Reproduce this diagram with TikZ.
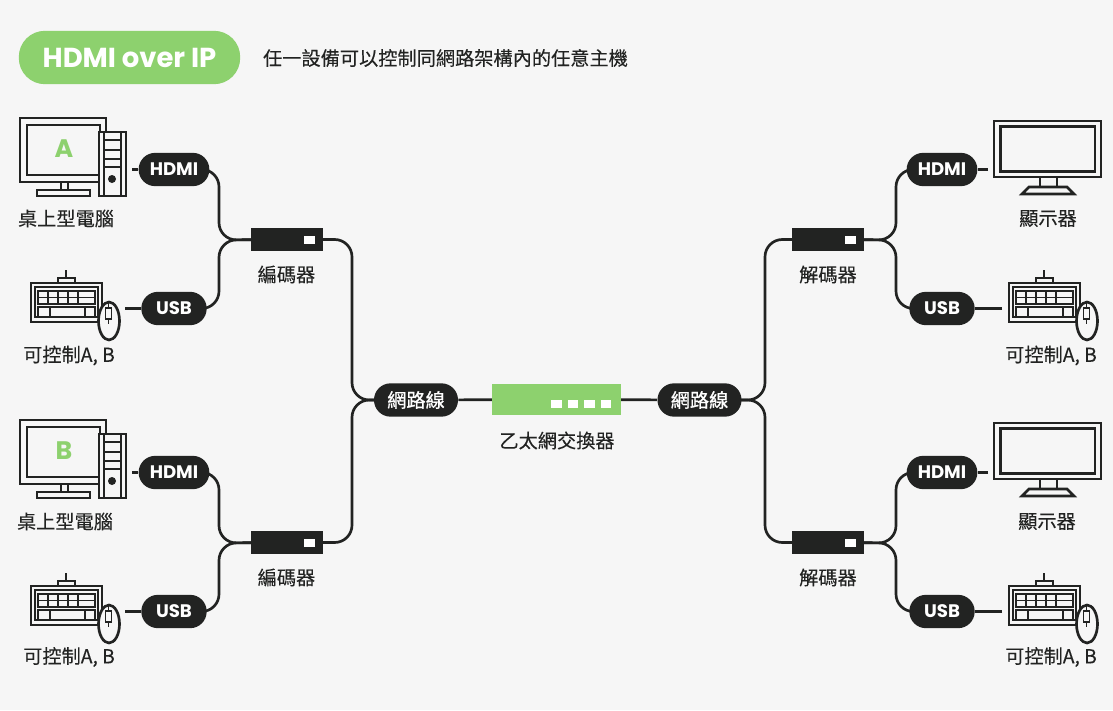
\documentclass[tikz,border=0pt]{standalone}
\usepackage{fontspec}
\setmainfont{Noto Sans CJK TC}
\newfontfamily\latinfont{Poppins}
\newfontfamily\cjkmed[FakeBold=1]{Noto Sans CJK TC}
\newfontfamily\cjklab[FakeBold=0.2]{Noto Sans CJK TC}
\usetikzlibrary{calc}
\definecolor{bgc}{HTML}{F6F6F6}
\definecolor{ink}{HTML}{222322}
\definecolor{grn}{HTML}{8DD16E}
\pgfdeclarelayer{back}
\pgfsetlayers{back,main}
\tikzset{
  x=0.75pt,y=-0.75pt,
  icon/.style={draw=ink,line width=2pt,fill=none},
  thin key/.style={draw=ink,line width=1.35pt,fill=none},
  wire/.style={draw=ink,line width=2pt},
  bendwire/.style={wire,rounded corners=13pt},
  pill/.style={fill=ink,text=white,rounded corners=12.4pt,minimum height=25pt,inner sep=0pt,anchor=center},
  pilllat/.style={pill,font=\latinfont\fontsize{13.6pt}{14pt}\selectfont\bfseries},
  pillcjk/.style={pill,font=\cjkmed\fontsize{14.4pt}{15pt}\selectfont,minimum width=63pt},
  lbl/.style={text=ink,font=\cjklab\fontsize{14.4pt}{16pt}\selectfont,inner sep=0pt,anchor=center},
  boxnode/.style={fill=ink,minimum width=54pt,minimum height=17.5pt,inner sep=0pt},
}
\newcommand{\computerIcon}[3]{%
 \begin{scope}[shift={(#1,#2)}]
  \draw[icon] (20,118) rectangle (106,182);
  \draw[icon] (27,125) rectangle (100,175);
  \draw[icon] (61,182) -- (61,190) (68,182) -- (68,190);
  \draw[icon] (37,190) rectangle (90,196);
  \fill[bgc] (98,132) rectangle (127,197);
  \draw[icon] (99,132) rectangle (126,196);
  \draw[icon] (104,132) -- (104,196) (121,132) -- (121,196);
  \draw[icon] (104,140) -- (121,140) (104,150) -- (121,150) (104,159) -- (121,159) (104,167) -- (121,167);
  \fill[ink] (112,179) circle[radius=4];
  \node[text=grn,font=\latinfont\fontsize{19pt}{20pt}\selectfont\bfseries,inner sep=0pt] (letter#3) at (64,149) {#3};
 \end{scope}}
\newcommand{\keyboardIcon}[2]{%
 \begin{scope}[shift={(#1,#2)}]
  \draw[icon] (66,270) -- (66,278);
  \draw[icon] (58,283) -- (58,278) -- (75,278) -- (75,283);
  \draw[icon] (31,283) rectangle (102,322);
  \draw[thin key] (35,287) rectangle (98,317);
  \draw[thin key] (38,291) rectangle (95,304);
  \draw[thin key] (38,297.5) -- (95,297.5);
  \draw[thin key] (48,291) -- (48,304) (58,291) -- (58,304) (68,291) -- (68,304) (78,291) -- (78,304);
  \draw[thin key] (38,307) rectangle (95,317);
  \draw[thin key] (50,307) -- (50,317) (85,307) -- (85,317);
  \draw[draw=ink,fill=bgc,line width=2pt] (109,321) ellipse[x radius=10.5,y radius=19];
  \draw[thin key] (108.5,302) -- (108.5,308) (108.5,319) -- (108.5,324);
  \draw[thin key] (105.5,308) rectangle (111.5,319);
 \end{scope}}
\newcommand{\monitorIcon}[2]{%
 \begin{scope}[shift={(#1,#2)}]
  \draw[icon] (994,121) rectangle (1101,177);
  \draw[icon] (1000.5,126.5) rectangle (1095,171.5);
  \draw[icon] (1040,178) -- (1040,187) (1057,178) -- (1057,187);
  \draw[icon,line join=miter] (1029,187) -- (1067,187) -- (1074,194) -- (1022,194) -- cycle;
 \end{scope}}
\begin{document}
\begin{tikzpicture}
\useasboundingbox (0,0) rectangle (1113,710);
\begin{pgfonlayer}{back}
\fill[bgc] (0,0) rectangle (1113,710);
\end{pgfonlayer}
% header
\node[fill=grn,text=white,rounded corners=19.5pt,minimum width=166pt,minimum height=40pt,inner sep=0pt,font=\latinfont\fontsize{20.6pt}{22pt}\selectfont\bfseries] (title) at (129.5,57.5) {HDMI over IP};
\node[lbl] (subtitle) at (445.5,58) {任一設備可以控制同網路架構內的任意主機};
% icons
\computerIcon{0}{0}{A}
\computerIcon{0}{302}{B}
\keyboardIcon{0}{0}
\keyboardIcon{0}{303}
\keyboardIcon{978}{0}
\keyboardIcon{978}{303}
\monitorIcon{0}{0}
\monitorIcon{0}{302}
% pills
\node[pilllat,minimum width=53pt] (hdmiA) at (174,169.5) {HDMI};
\node[pilllat,minimum width=49pt] (usbA) at (174,308.5) {USB};
\node[pilllat,minimum width=53pt] (hdmiB) at (174,472.5) {HDMI};
\node[pilllat,minimum width=49pt] (usbB) at (174,611.5) {USB};
\node[pilllat,minimum width=53pt] (hdmiC) at (942,169.5) {HDMI};
\node[pilllat,minimum width=49pt] (usbC) at (942,308.5) {USB};
\node[pilllat,minimum width=53pt] (hdmiD) at (942,472.5) {HDMI};
\node[pilllat,minimum width=49pt] (usbD) at (942,611.5) {USB};
\node[pillcjk] (netL) at (416,400) {網路線};
\node[pillcjk] (netR) at (699.5,400) {網路線};
% boxes
\node[boxnode] (enc1) at (287,239.5) {};
\node[boxnode] (enc2) at (287,542.5) {};
\node[boxnode] (dec1) at (828,239.5) {};
\node[boxnode] (dec2) at (828,542.5) {};
\node[fill=grn,minimum width=96.5pt,minimum height=23.5pt,inner sep=0pt] (switch) at (556.5,399.5) {};
\foreach \b in {enc1,enc2,dec1,dec2} {\fill[white] ($(\b.east)+(-19,-4)$) rectangle +(11,8);}
\foreach \sx in {551,567.5,584,600.5} {\fill[white] (\sx,400) rectangle +(10.5,8);}
% labels
\node[lbl] (l1) at (66,218.5) {桌上型電腦};
\node[lbl] (l2) at (69,355.5) {可控制A, B};
\node[lbl] (l3) at (65,521.5) {桌上型電腦};
\node[lbl] (l4) at (69,657) {可控制A, B};
\node[lbl] (l5) at (286.5,274.5) {編碼器};
\node[lbl] (l6) at (286.5,577.5) {編碼器};
\node[lbl] (l7) at (828,274.5) {解碼器};
\node[lbl] (l8) at (828,577.5) {解碼器};
\node[lbl] (l9) at (1048,218.5) {顯示器};
\node[lbl] (l10) at (1047,521.5) {顯示器};
\node[lbl] (l11) at (1051,355.5) {可控制A, B};
\node[lbl] (l12) at (1051,657) {可控制A, B};
\node[lbl] (l13) at (557,440.5) {乙太網交換器};
% free ends
\coordinate (pcA) at (132,169.5);
\coordinate (pcB) at (132,472.5);
\coordinate (kbA) at (125,308.5);
\coordinate (kbB) at (125,611.5);
\coordinate (mnC) at (988,169.5);
\coordinate (mnD) at (988,472.5);
\coordinate (kbC) at (1002,308.5);
\coordinate (kbD) at (1002,611.5);
\begin{pgfonlayer}{back}
\draw[wire] (pcA) -- (hdmiA) (pcB) -- (hdmiB) (kbA) -- (usbA) (kbB) -- (usbB);
\draw[wire] (mnC) -- (hdmiC) (mnD) -- (hdmiD) (kbC) -- (usbC) (kbD) -- (usbD);
\draw[wire] (netL) -- (switch) (switch) -- (netR);
\coordinate (j1) at (219,240);
\coordinate (j2) at (219,543);
\coordinate (j3) at (896,240);
\coordinate (j4) at (896,543);
\coordinate (j5) at (352,400);
\coordinate (j6) at (765,400);
\draw[bendwire] (hdmiA.center) -| (j1) -- (enc1.center);
\draw[bendwire] (usbA.center) -| (j1) -- (enc1.center);
\draw[bendwire] (hdmiB.center) -| (j2) -- (enc2.center);
\draw[bendwire] (usbB.center) -| (j2) -- (enc2.center);
\draw[bendwire] (hdmiC.center) -| (j3) -- (dec1.center);
\draw[bendwire] (usbC.center) -| (j3) -- (dec1.center);
\draw[bendwire] (hdmiD.center) -| (j4) -- (dec2.center);
\draw[bendwire] (usbD.center) -| (j4) -- (dec2.center);
\draw[bendwire] (enc1.center) -| (j5) -- (netL.center);
\draw[bendwire] (enc2.center) -| (j5) -- (netL.center);
\draw[bendwire] (dec1.center) -| (j6) -- (netR.center);
\draw[bendwire] (dec2.center) -| (j6) -- (netR.center);
\end{pgfonlayer}
\end{tikzpicture}
\end{document}
